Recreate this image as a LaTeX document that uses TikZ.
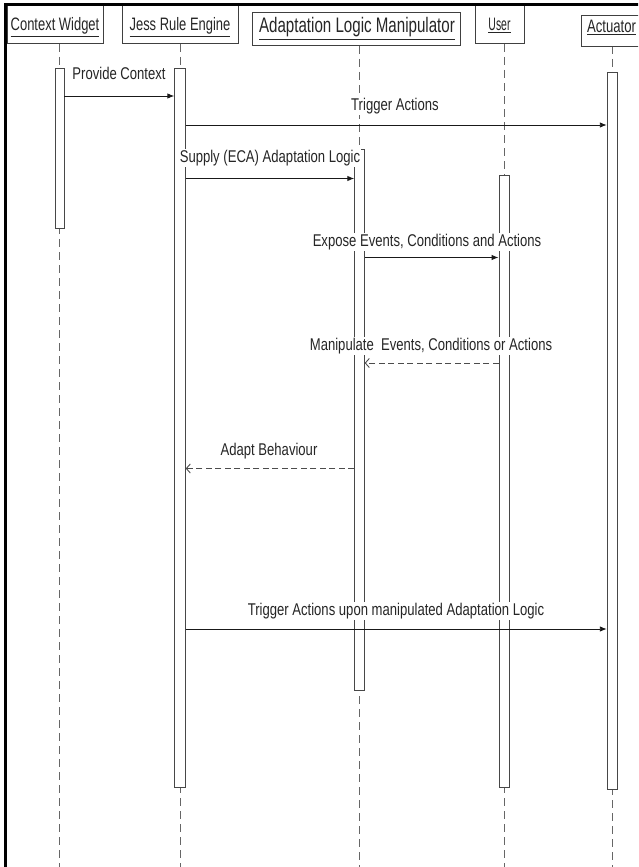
\documentclass[tikz,border=0pt]{standalone}
\usepackage{fontspec}
\usepackage{graphicx}
\setmainfont{Liberation Sans}
\usetikzlibrary{arrows.meta}

% condensed text helpers: #1 size, #2 horizontal squeeze, #3 text
\newcommand{\sqtext}[3]{{\fontsize{#1}{#1}\selectfont\scalebox{#2}[1]{#3}}}
\newcommand{\hdtext}[3]{{\fontsize{#1}{#1}\selectfont\scalebox{#2}[1]{\underline{#3}}}}

\tikzset{
  objbox/.style={draw=black!75, line width=0.9pt, fill=white},
  lifeline/.style={draw=black!60, line width=0.8pt, dash pattern=on 8pt off 5pt},
  actbar/.style={draw=black!72, line width=0.9pt, fill=white},
  msg/.style={draw=black!90, line width=0.9pt, -{Latex[length=7pt,width=5.5pt]}},
  reply/.style={draw=black!70, line width=0.9pt, dash pattern=on 6pt off 3.5pt,
                -{Straight Barb[length=4pt,width=9pt]}},
  lbl/.style={anchor=base, inner xsep=0.5pt, inner ysep=1pt, fill=white, text=black!85},
  hdr/.style={anchor=base, inner sep=0pt, text=black!85},
}

\begin{document}
\begin{tikzpicture}[x=1pt,y=-1pt]
\useasboundingbox (0,0) rectangle (638,867);
\clip (0,0) rectangle (638,867);
\fill[white] (0,0) rectangle (638,867);

% lifelines
\draw[lifeline] (59.5,44) coordinate (cwtop) -- (59.5,867) coordinate (cwend);
\draw[lifeline] (180,44) coordinate (jrtop) -- (180,867) coordinate (jrend);
\draw[lifeline] (359.5,46) coordinate (altop) -- (359.5,867) coordinate (alend);
\draw[lifeline] (504,44) coordinate (ustop) -- (504,867) coordinate (usend);
\draw[lifeline] (612.5,46) coordinate (actop) -- (612.5,867) coordinate (acend);

% object boxes
\draw[objbox] (7,5) rectangle (103,43);
\node[hdr] (cwname) at (55,31) {\hdtext{18}{0.72}{Context Widget}};
\draw[objbox] (122,5) rectangle (238,43);
\node[hdr] (jrname) at (180,31) {\hdtext{18}{0.72}{Jess Rule Engine}};
\draw[objbox] (252,12) rectangle (460,45);
\node[hdr] (alname) at (357,33) {\hdtext{21}{0.72}{Adaptation Logic Manipulator}};
\draw[objbox] (475,5) rectangle (524,43);
\node[hdr] (usname) at (499.5,31) {\hdtext{18}{0.58}{User}};
\draw[objbox] (581,15) rectangle (650,46);
\node[hdr] (acname) at (611.5,33) {\hdtext{18}{0.73}{Actuator}};

% activation bars
\node[actbar, minimum width=9pt, minimum height=160pt, inner sep=0pt, anchor=north] (cwbar) at (59.5,68) {};
\node[actbar, minimum width=10.5pt, minimum height=719pt, inner sep=0pt, anchor=north] (jrbar) at (180,68) {};
\node[actbar, minimum width=9.5pt, minimum height=541pt, inner sep=0pt, anchor=north] (albar) at (359.5,149) {};
\node[actbar, minimum width=10pt, minimum height=612pt, inner sep=0pt, anchor=north] (usbar) at (504,175) {};
\node[actbar, minimum width=10.5pt, minimum height=717pt, inner sep=0pt, anchor=north] (acbar) at (612.5,72) {};

% message rows
\coordinate (r1) at (0,96);
\coordinate (r2) at (0,125);
\coordinate (r3) at (0,178.5);
\coordinate (r4) at (0,257.5);
\coordinate (r5) at (0,363);
\coordinate (r6) at (0,468.5);
\coordinate (r7) at (0,629);

% messages
\draw[msg] (cwbar.east |- r1) -- (jrbar.west |- r1);
\node[lbl] (m1) at (119,80) {\sqtext{17}{0.77}{Provide Context}};

\draw[msg] (jrbar.east |- r2) -- (acbar.west |- r2);
\node[lbl] (m2) at (395,110) {\sqtext{17}{0.77}{Trigger Actions}};

\draw[msg] (jrbar.east |- r3) -- (albar.west |- r3);
\node[lbl] (m3) at (270,162) {\sqtext{17}{0.77}{Supply (ECA) Adaptation Logic}};

\draw[msg] (albar.east |- r4) -- (usbar.west |- r4);
\node[lbl] (m4) at (427,246) {\sqtext{17}{0.77}{Expose Events, Conditions and Actions}};

\draw[reply] (usbar.west |- r5) -- (albar.east |- r5);
\node[lbl] (m5) at (431,350) {\sqtext{17}{0.77}{Manipulate\ \ Events, Conditions or Actions}};

\draw[reply] (albar.west |- r6) -- (jrbar.east |- r6);
\node[lbl] (m6) at (269,455) {\sqtext{17}{0.77}{Adapt Behaviour}};

\draw[msg] (jrbar.east |- r7) -- (acbar.west |- r7);
\node[lbl] (m7) at (396,615) {\sqtext{17}{0.77}{Trigger Actions upon manipulated Adaptation Logic}};

% outer frame, top and left edges
\draw[line width=2.6pt, black] (5.5,867) -- (5.5,4.5) -- (640,4.5);
\end{tikzpicture}
\end{document}
